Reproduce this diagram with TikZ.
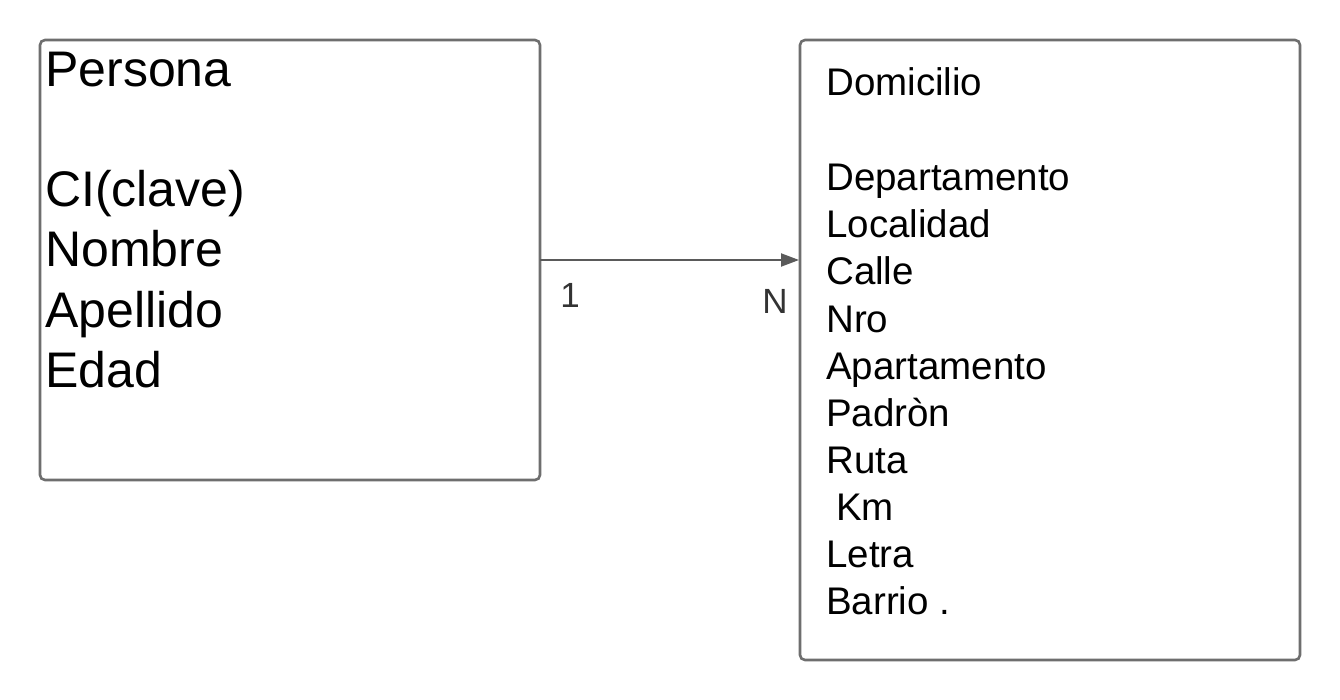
\documentclass[tikz,border=0pt]{standalone}
\usepackage{fontspec}
\setmainfont{Liberation Sans}
\usetikzlibrary{arrows.meta}
\definecolor{boxgray}{HTML}{6E6E6E}
\definecolor{linegray}{HTML}{5A5A5A}
\definecolor{lblgray}{HTML}{333333}
\begin{document}
\begin{tikzpicture}[x=1pt,y=-1pt,
  entity/.style={draw=boxgray,line width=2.6pt,rounded corners=5pt},
  bigtxt/.style={anchor=base west,inner sep=0pt,font=\fontsize{50}{60}\selectfont},
  smalltxt/.style={anchor=base west,inner sep=0pt,font=\fontsize{38.5}{46}\selectfont},
  lbl/.style={anchor=base,inner sep=0pt,text=lblgray,font=\fontsize{35}{42}\selectfont},
  rel/.style={draw=linegray,line width=2pt,-{Triangle[length=18pt,width=13pt]}}]
\useasboundingbox (0,0) rectangle (1340,700);
\fill[white] (0,0) rectangle (1340,700);
% boxes
\draw[entity] (40,40) rectangle (540,480);
\draw[entity] (800,40) rectangle (1300,660);
\coordinate (pr) at (540,260);
\coordinate (dl) at (799,260);
% Persona texts
\node[bigtxt] (p0) at (45,87) {Persona};
\node[bigtxt] (p1) at (45,207) {CI(clave)};
\node[bigtxt] (p2) at (45,267) {Nombre};
\node[bigtxt] (p3) at (45,327) {Apellido};
\node[bigtxt] (p4) at (45,387) {Edad};
% Domicilio texts
\node[smalltxt] (d0) at (826,96) {Domicilio};
\node[smalltxt] (d1) at (826,191) {Departamento};
\node[smalltxt] (d2) at (826,238) {Localidad};
\node[smalltxt] (d3) at (826,285) {Calle};
\node[smalltxt] (d4) at (826,332) {Nro};
\node[smalltxt] (d5) at (826,379) {Apartamento};
\node[smalltxt] (d6) at (826,426) {Padròn};
\node[smalltxt] (d7) at (826,473) {Ruta};
\node[smalltxt] (d8) at (836,520) {Km};
\node[smalltxt] (d9) at (826,567) {Letra};
\node[smalltxt] (d10) at (826,614) {Barrio .};
% relation
\draw[rel] (pr) -- (dl);
\node[lbl] (one) at (570,308) {1};
\node[lbl] (en) at (775,314) {N};
\end{tikzpicture}
\end{document}
